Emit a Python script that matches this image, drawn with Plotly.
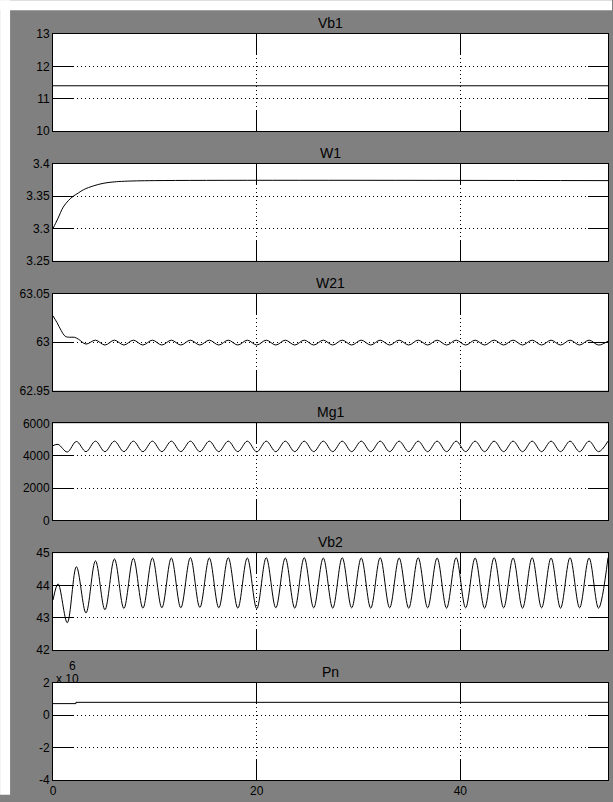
import plotly.graph_objects as go

# ---------------- data ----------------
titles = ["Vb1", "W1", "W21", "Mg1", "Vb2", "Pn"]

vb1_t = [0, 54.5]
vb1_v = [11.4, 11.4]

w1_t = [0, 0.25, 0.5, 0.75, 1.0, 1.5, 2.0, 2.5, 3.0, 4.0, 5.0, 6.0, 7.0, 10.0, 54.5]
w1_v = [3.300, 3.308, 3.316, 3.325, 3.333, 3.343, 3.350, 3.355, 3.360, 3.366, 3.370, 3.372, 3.373, 3.374, 3.374]

# common time axis for the oscillating signals (peaks / troughs)
osc_t = [0, 0.5, 1.4, 2.3, 3.24, 4.17, 5.1, 6.03, 6.96, 7.89, 8.83, 9.76, 10.69, 11.62,
         12.55, 13.49, 14.42, 15.35, 16.28, 17.21, 18.15, 19.08, 20.01, 20.94, 21.88,
         22.81, 23.74, 24.67, 25.60, 26.54, 27.47, 28.40, 29.33, 30.27, 31.20, 32.13,
         33.06, 33.99, 34.93, 35.86, 36.79, 37.72, 38.65, 39.59, 40.52, 41.45, 42.38,
         43.32, 44.25, 45.18, 46.11, 47.05, 47.98, 48.91, 49.84, 50.77, 51.71, 52.64,
         53.57, 54.50]

vb2_v = [43.55, 44.05, 42.85, 44.58, 43.15, 44.76, 43.25, 44.82, 43.29, 44.84, 43.30,
         44.85, 43.31, 44.85, 43.31, 44.86, 43.32, 44.85, 43.31, 44.86, 43.30, 44.85,
         43.28, 44.86, 43.31, 44.85, 43.30, 44.86, 43.31, 44.85, 43.30, 44.86, 43.31,
         44.85, 43.30, 44.86, 43.31, 44.85, 43.30, 44.86, 43.31, 44.85, 43.30, 44.86,
         43.31, 44.85, 43.30, 44.86, 43.31, 44.85, 43.30, 44.86, 43.31, 44.85, 43.30,
         44.86, 43.31, 44.85, 43.30, 44.86]

mg1_v = [4620, 4700, 4230, 4880, 4250, 4900, 4250, 4900, 4250, 4900, 4250, 4900, 4250,
         4900, 4250, 4900, 4250, 4900, 4250, 4900, 4250, 4900, 4240, 4900, 4250, 4900,
         4250, 4900, 4250, 4900, 4250, 4900, 4250, 4900, 4250, 4900, 4250, 4900, 4250,
         4900, 4250, 4900, 4250, 4900, 4250, 4900, 4250, 4900, 4250, 4900, 4250, 4900,
         4250, 4900, 4250, 4900, 4250, 4900, 4250, 4900]

w21_t = [0, 0.4, 0.8, 1.2, 1.6, 2.1, 2.5, 3.24, 4.17, 5.1, 6.03, 6.96, 7.89, 8.83, 9.76,
         10.69, 11.62, 12.55, 13.49, 14.42, 15.35, 16.28, 17.21, 18.15, 19.08, 20.01,
         20.94, 21.88, 22.81, 23.74, 24.67, 25.60, 26.54, 27.47, 28.40, 29.33, 30.27,
         31.20, 32.13, 33.06, 33.99, 34.93, 35.86, 36.79, 37.72, 38.65, 39.59, 40.52,
         41.45, 42.38, 43.32, 44.25, 45.18, 46.11, 47.05, 47.98, 48.91, 49.84, 50.77,
         51.71, 52.64, 53.57, 54.50]
w21_v = [63.027, 63.020, 63.012, 63.006, 63.005, 63.005, 63.003, 62.998, 63.002, 62.997,
         63.002, 62.997, 63.002, 62.997, 63.002, 62.997, 63.002, 62.997, 63.002, 62.997,
         63.002, 62.997, 63.002, 62.997, 63.002, 62.997, 63.002, 62.997, 63.002, 62.997,
         63.002, 62.997, 63.002, 62.997, 63.002, 62.997, 63.002, 62.997, 63.002, 62.997,
         63.002, 62.997, 63.002, 62.997, 63.002, 62.997, 63.002, 62.997, 63.002, 62.997,
         63.002, 62.997, 63.002, 62.997, 63.002, 62.997, 63.002, 62.997, 63.002, 62.997,
         63.002, 62.997, 63.001]

pn_t = [0, 2.25, 2.25, 54.5]
pn_v = [720000, 720000, 800000, 800000]

x_range = [0, 54.5]
x_ticks = [0, 20, 40]

y_ranges = [[10, 13], [3.25, 3.4], [62.95, 63.05], [0, 6000], [42, 45], [-4e6, 2e6]]
y_tickvals = [[10, 11, 12, 13], [3.25, 3.3, 3.35, 3.4], [62.95, 63, 63.05],
              [0, 2000, 4000, 6000], [42, 43, 44, 45], [-4e6, -2e6, 0, 2e6]]
y_ticktext = [["10", "11", "12", "13"], ["3.25", "3.3", "3.35", "3.4"],
              ["62.95", "63", "63.05"], ["0", "2000", "4000", "6000"],
              ["42", "43", "44", "45"], ["-4", "-2", "0", "2"]]

series = [(vb1_t, vb1_v, "linear"), (w1_t, w1_v, "spline"), (w21_t, w21_v, "spline"),
          (osc_t, mg1_v, "spline"), (osc_t, vb2_v, "spline"), (pn_t, pn_v, "linear")]

# ---------------- layout geometry ----------------
W, H = 613, 802
ML, MR, MT, MB = 53, 4, 34, 15
PH = H - MT - MB          # plot-area height in px
PW = W - ML - MR
tops = [34, 165, 296, 427, 558, 689]
sub_h = 98
GREY = "#808080"
FONT = "Liberation Sans, Arial, sans-serif"


def py(px):
    return (H - MB - px) / PH


def pxx(px):
    return (px - ML) / PW


fig = go.Figure()
layout = dict(
    width=W, height=H,
    margin=dict(l=ML, r=MR, t=MT, b=MB),
    paper_bgcolor=GREY, plot_bgcolor="white",
    showlegend=False,
    font=dict(family=FONT, size=12, color="black"),
)
annotations = []

for i, (t, v, shp) in enumerate(series):
    n = "" if i == 0 else str(i + 1)
    fig.add_trace(go.Scatter(x=t, y=v, mode="lines", xaxis="x" + n, yaxis="y" + n,
                             line=dict(color="black", width=1, shape=shp, smoothing=1.0),
                             hoverinfo="skip"))
    top = tops[i]
    d0, d1 = py(top + sub_h), py(top)
    common = dict(showline=True, linecolor="black", linewidth=1, mirror="ticks",
                  ticks="inside", ticklen=20, tickwidth=1, tickcolor="black",
                  showgrid=True, gridcolor="black", gridwidth=1, griddash="1px,3px",
                  zeroline=False, tickfont=dict(family=FONT, size=12, color="black"))
    layout["xaxis" + n] = dict(common, domain=[0, 1], anchor="y" + n, range=x_range,
                               tickvals=x_ticks, ticktext=[str(k) for k in x_ticks],
                               showticklabels=(i == len(series) - 1))
    layout["yaxis" + n] = dict(common, domain=[d0, d1], anchor="x" + n, range=y_ranges[i],
                               tickvals=y_tickvals[i], ticktext=y_ticktext[i])
    annotations.append(dict(text=titles[i], x=0.5, xref="paper", y=d1, yref="paper",
                            xanchor="center", yanchor="bottom", yshift=1, showarrow=False,
                            font=dict(family=FONT, size=14, color="black")))

annotations.append(dict(text="x 10", x=pxx(54), xref="paper", y=py(685), yref="paper",
                        xanchor="left", yanchor="middle", showarrow=False,
                        font=dict(family=FONT, size=12, color="black")))
annotations.append(dict(text="6", x=pxx(67), xref="paper", y=py(672), yref="paper",
                        xanchor="left", yanchor="middle", showarrow=False,
                        font=dict(family=FONT, size=12, color="black")))

layout["annotations"] = annotations
layout["shapes"] = [
    dict(type="rect", xref="paper", yref="paper", x0=pxx(0), x1=pxx(W), y0=py(10), y1=py(0),
         fillcolor="white", line=dict(width=0), layer="below"),
    dict(type="rect", xref="paper", yref="paper", x0=pxx(0), x1=pxx(10), y0=py(H), y1=py(0),
         fillcolor="white", line=dict(width=0), layer="below"),
]
fig.update_layout(**layout)
fig.write_html("out.html", config={"displayModeBar": False},
               post_script="document.body.style.margin='0';"
                           "document.body.style.overflow='hidden';")
